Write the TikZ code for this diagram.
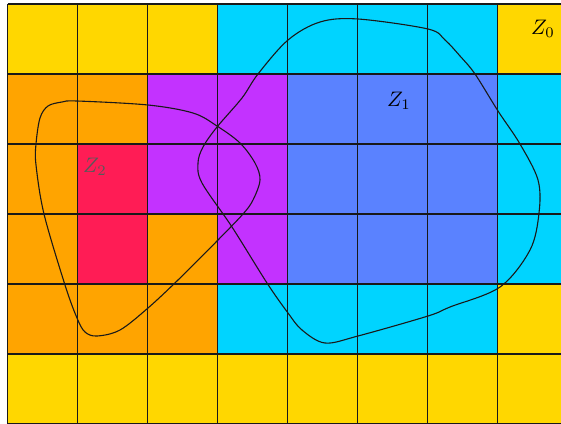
\documentclass[tikz,border=0pt]{standalone}
\usepackage{graphicx}
\definecolor{cY}{RGB}{255,215,0}
\definecolor{cC}{RGB}{0,212,255}
\definecolor{cO}{RGB}{255,164,0}
\definecolor{cP}{RGB}{195,50,255}
\definecolor{cB}{RGB}{90,130,255}
\definecolor{cR}{RGB}{255,28,85}
\tikzset{
  gridline/.style={line width=1.8pt, draw=black!90},
  curveline/.style={line width=1.1pt, draw=black!90},
  lbl/.style={inner sep=0pt},
}
\newcommand{\biglabel}[1]{\scalebox{2.1}{$#1$}}
\begin{document}
\begin{tikzpicture}[x=1pt,y=-1pt]
\useasboundingbox (0,0) rectangle (561,423);
\clip (0,0) rectangle (561,423);
\foreach \row [count=\j from 0] in {{Y,Y,Y,C,C,C,C,Y},{O,O,P,P,B,B,B,C},{O,R,P,P,B,B,B,C},{O,R,O,P,B,B,B,C},{O,O,O,C,C,C,C,Y},{Y,Y,Y,Y,Y,Y,Y,Y}} {
  \foreach \c [count=\i from 0] in \row {
    \fill[fill=c\c] (7.5+70*\i, 4+70*\j) rectangle ++(70,70);
  }
}
\foreach \i in {0,...,8} \draw[gridline] (7.5+70*\i,4) -- (7.5+70*\i,424);
\foreach \j in {0,...,6} \draw[gridline] (7.5,4+70*\j) -- (568,4+70*\j);
% Z1 curve
\draw[curveline] plot[smooth cycle, tension=0.55] coordinates {
 (258,74) (288,40) (320,22) (358,19) (428,29) (445,40) (460,56) (475,74) (498,111) (520,144) (538,180) (539,213) (530,250) (500,287) (450,307) (428,316) (358,336) (325,343) (302,330) (288,313) (267,283) (232,227) (202,183) (198,163) (203,147) (217,127) (242,98)};
% Z2 curve
\draw[curveline] plot[smooth cycle, tension=0.55] coordinates {
 (36,144) (40,118) (48,106) (62,102) (77,101) (148,105) (193,113) (217,126) (240,143) (255,163) (260,180) (253,200) (243,214) (217,241) (178,280) (148,308) (120,330) (97,336) (85,332) (77,318) (65,285) (44,214) (36,165)};
\node[lbl] (z0) at (543,29) {\biglabel{Z_0}};
\node[lbl] (z1) at (399,101) {\biglabel{Z_1}};
\node[lbl, text=black!65] (z2) at (95,167) {\biglabel{Z_2}};
\end{tikzpicture}
\end{document}
